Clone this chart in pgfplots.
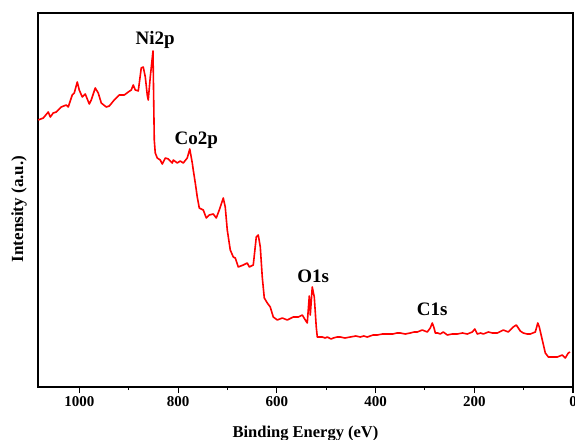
\documentclass[border=0pt]{standalone}
\usepackage{fontspec}
\setmainfont{Liberation Serif}
\usepackage{pgfplots}
\pgfplotsset{compat=1.18}
\begin{document}
\begin{tikzpicture}
\begin{axis}[
  name=ax,
  scale only axis,
  width=535pt, height=374pt,
  x dir=reverse,
  xmin=0, xmax=1084,
  ymin=0, ymax=374,
  xtick={0,200,400,600,800,1000},
  minor x tick num=1,
  xtick pos=bottom,
  ytick=\empty,
  tick align=outside,
  major tick length=6pt,
  minor tick length=3pt,
  every tick/.style={black, line width=1.1pt},
  axis line style={black, line width=1.2pt},
  /pgf/number format/assume math mode=true,
  /pgf/number format/1000 sep={},
  xticklabel style={font=\fontsize{15}{15}\selectfont\bfseries},
  xlabel={Binding Energy (eV)},
  ylabel={Intensity (a.u.)},
  xlabel style={font=\fontsize{16.5}{16.5}\selectfont\bfseries, at={(axis description cs:0.5,0)}, anchor=north, yshift=-39pt, inner sep=0pt},
  ylabel style={font=\fontsize{17}{17}\selectfont\bfseries, at={(axis description cs:-0.0206,0.476)}, anchor=south, inner sep=0pt},
  clip=false,
]
\addplot[red, line width=1.6pt, line join=round] coordinates {
(1083.5,267) (1073.3,269) (1063.2,275) (1059.1,270) (1053.1,274) (1047.0,275)
(1036.9,280) (1026.7,282) (1022.7,280) (1014.6,292) (1010.5,294) (1004.4,305)
(1000.4,297) (994.3,290) (988.2,293) (980.1,283) (976.1,287) (968.0,299)
(961.9,294) (955.8,284) (945.7,280) (939.6,281) (929.5,287) (919.3,292)
(909.2,292) (901.1,295) (895.0,297) (891.0,302) (886.9,297) (880.8,296)
(874.8,319) (870.7,320) (866.6,310) (862.6,292) (860.6,287) (856.5,310)
(851.0,336) (848.4,247) (846.4,234) (842.3,229) (836.3,227) (832.2,223)
(826.1,229) (820.0,228) (811.9,224) (809.9,227) (801.8,224) (795.7,226)
(789.6,224) (781.6,229) (776.5,238) (771.4,224) (769.4,217) (765.3,204)
(761.3,190) (757.2,179) (749.1,177) (743.0,169) (737.0,172) (728.9,173)
(722.8,169) (716.7,177) (708.6,189) (704.6,180) (700.5,157) (694.4,137)
(688.3,130) (684.3,129) (678.2,120) (668.1,122) (660.0,124) (655.9,120)
(647.8,122) (641.7,150) (637.7,152) (633.6,140) (629.6,110) (625.5,89)
(619.4,84) (613.4,80) (607.3,70) (599.2,67) (589.0,69) (578.9,67)
(566.8,70) (556.6,70) (548.5,72) (542.4,67) (538.4,64) (534.3,91)
(532.3,72) (528.3,100) (524.2,90) (520.2,60) (518.1,50) (508.0,50)
(502.0,49) (497.9,50) (490.0,48) (485.7,49) (478.0,50) (471.5,50)
(462.0,49) (451.3,50) (440.0,51) (431.0,50) (424.0,51) (416.8,50)
(405.0,52) (396.5,52) (386.0,53) (376.3,53) (365.0,53) (357.0,54)
(349.9,54) (340.0,53) (329.7,54) (322.0,55) (315.5,55) (305.4,57)
(295.2,55) (289.2,59) (285.1,64) (281.5,59) (279.0,54) (274.0,54)
(268.9,53) (262.8,55) (254.7,52) (245.0,53) (234.4,53) (224.0,54)
(214.2,53) (204.0,55) (199.0,58) (193.9,53) (187.0,54) (181.8,53)
(171.6,55) (163.5,54) (153.4,54) (141.2,57) (131.1,55) (121.0,60)
(114.9,62) (106.8,56) (100.7,54) (93.0,53) (86.5,53) (76.4,55)
(71.3,64) (68.3,60) (62.2,47) (56.1,34) (50.0,30) (40.0,30)
(31.8,30) (21.7,32) (15.6,29) (9.5,34) (6.0,35)
};
\node[anchor=base, font=\fontsize{19}{19}\selectfont\bfseries] at (axis cs:846.4,342) {Ni2p};
\node[anchor=base, font=\fontsize{19}{19}\selectfont\bfseries] at (axis cs:763.3,242) {Co2p};
\node[anchor=base, font=\fontsize{19}{19}\selectfont\bfseries] at (axis cs:526.2,105) {O1s};
\node[anchor=base, font=\fontsize{19}{19}\selectfont\bfseries] at (axis cs:285.1,72) {C1s};
\end{axis}
\pgfresetboundingbox
\path[use as bounding box] ([xshift=-38pt,yshift=-52pt]ax.south west) rectangle ([xshift=2pt,yshift=13pt]ax.north east);
\end{tikzpicture}
\end{document}
